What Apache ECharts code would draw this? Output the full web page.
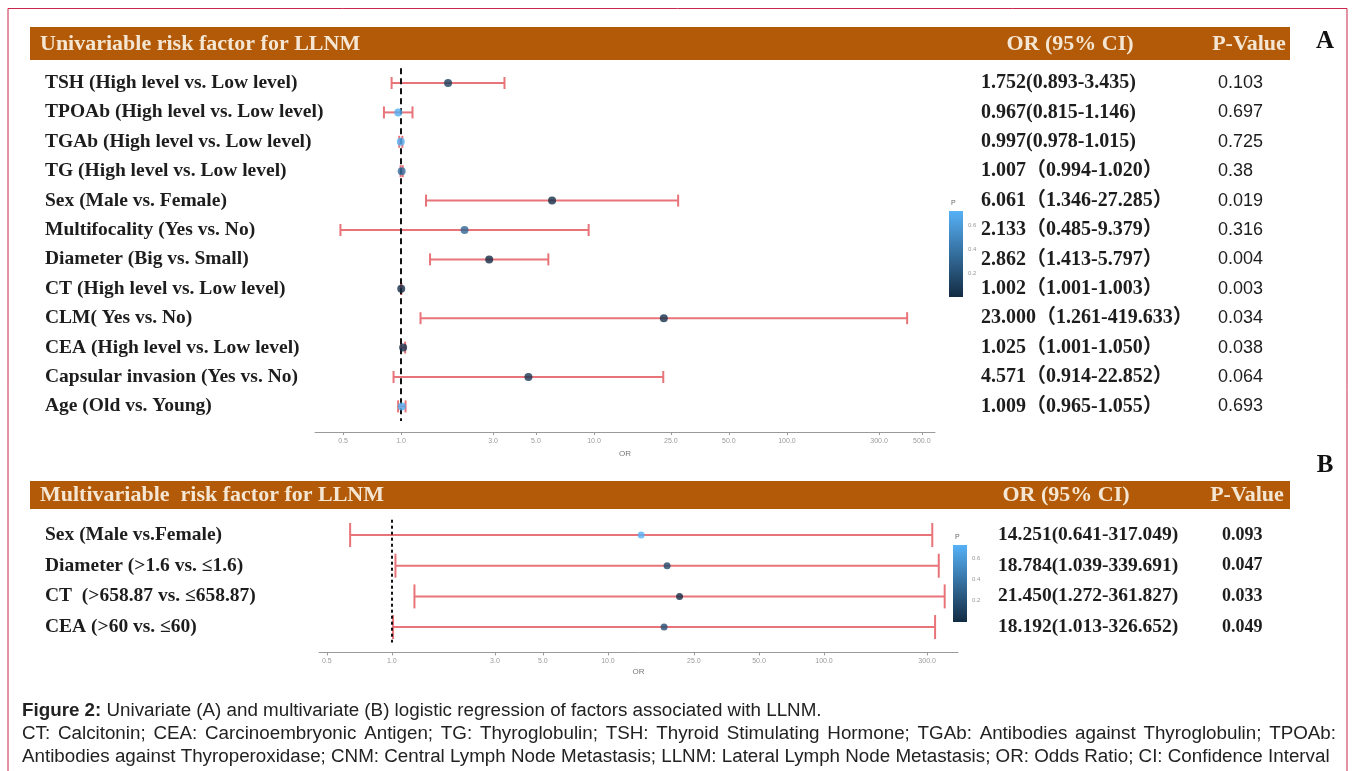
<!DOCTYPE html>
<html>
<head>
<meta charset="utf-8">
<script src="https://cdn.jsdelivr.net/npm/echarts@6/dist/echarts.min.js"></script>
<style>
html, body { margin: 0; padding: 0; background: #fff; }
#chart { width: 1355px; height: 771px; }
</style>
</head>
<body>
<div id="chart"></div>
<script>
// A: univariable
const uniFactors = ['TSH (High level vs. Low level)', 'TPOAb (High level vs. Low level)', 'TGAb (High level vs. Low level)',
  'TG (High level vs. Low level)', 'Sex (Male vs. Female)', 'Multifocality (Yes vs. No)', 'Diameter (Big vs. Small)',
  'CT (High level vs. Low level)', 'CLM( Yes vs. No)', 'CEA (High level vs. Low level)', 'Capsular invasion (Yes vs. No)',
  'Age (Old vs. Young)'];
const uniOR = [1.752, 0.967, 0.997, 1.007, 6.061, 2.133, 2.862, 1.002, 23.000, 1.025, 4.571, 1.009];
const uniLow = [0.893, 0.815, 0.978, 0.994, 1.346, 0.485, 1.413, 1.001, 1.261, 1.001, 0.914, 0.965];
const uniHigh = [3.435, 1.146, 1.015, 1.020, 27.285, 9.379, 5.797, 1.003, 419.633, 1.050, 22.852, 1.055];
const uniP = ['0.103', '0.697', '0.725', '0.38', '0.019', '0.316', '0.004', '0.003', '0.034', '0.038', '0.064', '0.693'];

// B: multivariable
const multiFactors = ['Sex (Male vs.Female)', 'Diameter (>1.6 vs. ≤1.6)', 'CT  (>658.87 vs. ≤658.87)', 'CEA (>60 vs. ≤60)'];
const multiOR = [14.251, 18.784, 21.450, 18.192];
const multiLow = [0.641, 1.039, 1.272, 1.013];
const multiHigh = [317.049, 339.691, 361.827, 326.652];
const multiP = ['0.093', '0.047', '0.033', '0.049'];

const ticksA = [0.5, 1, 3, 5, 10, 25, 50, 100, 300, 500];
const ticksB = [0.5, 1, 3, 5, 10, 25, 50, 100, 300];
const legendTicks = [0.2, 0.4, 0.6];

const serif = '"Liberation Serif", "Times New Roman", "Noto Sans CJK SC", serif';
const sans = '"Liberation Sans", Arial, sans-serif';
const ciColor = '#E8747A';
const brown = '#B25A08';
const pColors = ['#132B43', '#56B1F7'];

const log = Math.log10;
const fmt = (v) => v.toFixed(3);
const uniText = uniOR.map((v, i) => i < 3
  ? fmt(v) + '(' + fmt(uniLow[i]) + '-' + fmt(uniHigh[i]) + ')'
  : fmt(v) + '（' + fmt(uniLow[i]) + '-' + fmt(uniHigh[i]) + '）');
const multiText = multiOR.map((v, i) => fmt(v) + '(' + fmt(multiLow[i]) + '-' + fmt(multiHigh[i]) + ')');

const chart = echarts.init(document.getElementById('chart'));

function ciRenderer(cap, width) {
  return function (params, api) {
    const y = api.value(2);
    const a = api.coord([api.value(0), y]);
    const b = api.coord([api.value(1), y]);
    const style = { stroke: ciColor, lineWidth: width };
    return {
      type: 'group',
      children: [
        { type: 'line', shape: { x1: a[0], y1: a[1], x2: b[0], y2: b[1] }, style },
        { type: 'line', shape: { x1: a[0], y1: a[1] - cap, x2: a[0], y2: a[1] + cap }, style },
        { type: 'line', shape: { x1: b[0], y1: b[1] - cap, x2: b[0], y2: b[1] + cap }, style }
      ]
    };
  };
}

function orAxis(grid, lo, hi, ticks, offset, nameGap) {
  // label text comes from the nearest tick, so rounding of log values can't change it
  const nearest = (v) => ticks.reduce((best, t) => Math.abs(log(t) - v) < Math.abs(log(best) - v) ? t : best, ticks[0]);
  return {
    type: 'value', gridIndex: grid, min: log(lo), max: log(hi), offset: offset,
    splitLine: { show: false },
    axisLine: { show: true, onZero: false, lineStyle: { color: '#9a9a9a', width: 1 } },
    axisTick: { show: true, customValues: ticks.map(log), length: 3, lineStyle: { color: '#9a9a9a' } },
    axisLabel: {
      customValues: ticks.map(log), margin: 5, fontSize: 7, color: '#9a9a9a', fontFamily: sans,
      formatter: (v) => nearest(v).toFixed(1)
    },
    name: 'OR', nameLocation: 'middle', nameGap: nameGap,
    nameTextStyle: { fontSize: 8, color: '#777', fontFamily: sans }
  };
}

function labelAxis(grid, data, pos, margin, offset, style) {
  return {
    type: 'category', gridIndex: grid, data: data, inverse: true, position: pos, offset: offset,
    axisLine: { show: false }, axisTick: { show: false }, splitLine: { show: false },
    axisLabel: Object.assign({ margin: margin, align: 'left', color: '#1d1d1d' }, style)
  };
}

const rowFont = { fontFamily: serif, fontWeight: 'bold', fontSize: 19.5 };
const orFontA = { fontFamily: serif, fontWeight: 'bold', fontSize: 20 };
const orFontB = { fontFamily: serif, fontWeight: 'bold', fontSize: 19.5 };

function legendAxis(grid, max) {
  return {
    type: 'value', gridIndex: grid, min: 0, max: max, position: 'right',
    axisLine: { show: false }, splitLine: { show: false },
    axisTick: { show: true, inside: true, length: 3, customValues: legendTicks, lineStyle: { color: '#fff' } },
    axisLabel: { customValues: legendTicks, fontSize: 6, color: '#999', margin: 5, fontFamily: sans }
  };
}

// caption helper: justified line built from measured words
const captionFont = '18.8px ' + sans;
const measure = document.createElement('canvas').getContext('2d');
function captionLine(str, x, y, width, justify) {
  if (!justify) {
    return [text(x, y, str, { font: captionFont, fill: '#222' })];
  }
  measure.font = captionFont;
  const words = str.split(' ');
  const total = words.reduce((s, w) => s + measure.measureText(w).width, 0);
  const gap = (width - total) / (words.length - 1);
  let cx = x;
  return words.map((w) => {
    const el = text(cx, y, w, { font: captionFont, fill: '#222' });
    cx += measure.measureText(w).width + gap;
    return el;
  });
}

function text(x, y, str, style) {
  return { type: 'text', x: x, y: y, style: Object.assign({ text: str, verticalAlign: 'middle', textVerticalAlign: 'middle' }, style) };
}

const headerFont = { font: 'bold 22px ' + serif, fill: '#F4E6D2' };
const centered = { align: 'center', textAlign: 'center' };

const graphics = [
  { type: 'polyline', shape: { points: [[8, 771], [8, 8.5], [1347, 8.5], [1347, 771]] }, style: { stroke: '#C8274E', lineWidth: 1, fill: null } },
  { type: 'rect', shape: { x: 30, y: 27, width: 1260, height: 33 }, style: { fill: brown } },
  { type: 'rect', shape: { x: 30, y: 481, width: 1260, height: 28 }, style: { fill: brown } },
  text(40, 44, 'Univariable risk factor for LLNM', headerFont),
  text(1070, 44, 'OR (95% CI)', Object.assign({}, centered, headerFont)),
  text(1249, 44, 'P-Value', Object.assign({}, centered, headerFont)),
  text(40, 495, 'Multivariable  risk factor for LLNM', headerFont),
  text(1066, 495, 'OR (95% CI)', Object.assign({}, centered, headerFont)),
  text(1247, 495, 'P-Value', Object.assign({}, centered, headerFont)),
  text(1325, 42, 'A', Object.assign({ font: 'bold 25px ' + serif, fill: '#111' }, centered)),
  text(1325, 466, 'B', Object.assign({ font: 'bold 25px ' + serif, fill: '#111' }, centered)),
  text(951, 203, 'P', { font: '7px ' + sans, fill: '#666' }),
  text(955, 537, 'P', { font: '7px ' + sans, fill: '#666' }),
  text(22, 711, '{b|Figure 2:} Univariate (A) and multivariate (B) logistic regression of factors associated with LLNM.',
    { font: captionFont, fill: '#222', rich: { b: { fontWeight: 'bold', fontSize: 18.8, fontFamily: sans } } })
].concat(
  captionLine('CT: Calcitonin; CEA: Carcinoembryonic Antigen; TG: Thyroglobulin; TSH: Thyroid Stimulating Hormone; TGAb: Antibodies against Thyroglobulin; TPOAb:', 22, 734, 1314, true),
  captionLine('Antibodies against Thyroperoxidase; CNM: Central Lymph Node Metastasis; LLNM: Lateral Lymph Node Metastasis; OR: Odds Ratio; CI: Confidence Interval', 22, 757, 1314, false)
);

const uniPNum = uniP.map(Number);
const multiPNum = multiP.map(Number);
const legendGradient = () => new echarts.graphic.LinearGradient(0, 0, 0, 1, [{ offset: 0, color: pColors[1] }, { offset: 1, color: pColors[0] }]);

const option = {
  animation: false,
  backgroundColor: '#fff',
  grid: [
    { left: 315, width: 620, top: 68.3, height: 352.8 },
    { left: 319, width: 639, top: 519.7, height: 122.7 },
    { left: 949, width: 14, top: 211, height: 86 },
    { left: 953, width: 14, top: 545, height: 77 }
  ],
  xAxis: [
    orAxis(0, 0.358, 585, ticksA, 11, 18),
    orAxis(1, 0.46, 417, ticksB, 10, 15),
    { type: 'category', gridIndex: 2, data: [''], show: false },
    { type: 'category', gridIndex: 3, data: [''], show: false }
  ],
  yAxis: [
    labelAxis(0, uniFactors, 'left', 270, 0, rowFont),
    labelAxis(0, uniText, 'right', 46, 0, orFontA),
    labelAxis(0, uniP, 'right', 0, 283, { fontFamily: sans, fontSize: 18 }),
    labelAxis(1, multiFactors, 'left', 274, 0, rowFont),
    labelAxis(1, multiText, 'right', 40, 0, orFontB),
    labelAxis(1, multiP, 'right', 0, 264, { fontFamily: serif, fontWeight: 'bold', fontSize: 18 }),
    legendAxis(2, Math.max(...uniPNum)),
    legendAxis(3, Math.max(...uniPNum))
  ],
  visualMap: [
    { show: false, seriesIndex: 1, dimension: 2, min: Math.min(...uniPNum), max: Math.max(...uniPNum), inRange: { color: pColors } },
    { show: false, seriesIndex: 3, dimension: 2, min: Math.min(...multiPNum), max: Math.max(...multiPNum), inRange: { color: pColors } }
  ],
  series: [
    {
      type: 'custom', xAxisIndex: 0, yAxisIndex: 0, renderItem: ciRenderer(6, 2), clip: false,
      encode: { x: [0, 1], y: 2 },
      data: uniLow.map((lo, i) => [log(lo), log(uniHigh[i]), i])
    },
    {
      type: 'scatter', xAxisIndex: 0, yAxisIndex: 0, symbolSize: 8, z: 5,
      data: uniOR.map((v, i) => [log(v), i, uniPNum[i]]),
      markLine: {
        silent: true, symbol: 'none', label: { show: false },
        lineStyle: { color: '#111', type: [6, 4], width: 2 },
        data: [{ xAxis: 0 }]
      }
    },
    {
      type: 'custom', xAxisIndex: 1, yAxisIndex: 3, renderItem: ciRenderer(12, 2), clip: false,
      encode: { x: [0, 1], y: 2 },
      data: multiLow.map((lo, i) => [log(lo), log(multiHigh[i]), i])
    },
    {
      type: 'scatter', xAxisIndex: 1, yAxisIndex: 3, symbolSize: 7, z: 5,
      data: multiOR.map((v, i) => [log(v), i, multiPNum[i]]),
      markLine: {
        silent: true, symbol: 'none', label: { show: false },
        lineStyle: { color: '#111', type: [3, 3], width: 2 },
        data: [{ xAxis: 0 }]
      }
    },
    {
      type: 'bar', xAxisIndex: 2, yAxisIndex: 6, barWidth: '100%', silent: true,
      data: [Math.max(...uniPNum)],
      itemStyle: { color: legendGradient() }
    },
    {
      type: 'bar', xAxisIndex: 3, yAxisIndex: 7, barWidth: '100%', silent: true,
      data: [Math.max(...uniPNum)],
      itemStyle: { color: legendGradient() }
    }
  ],
  graphic: graphics
};

chart.setOption(option);
</script>
</body>
</html>
